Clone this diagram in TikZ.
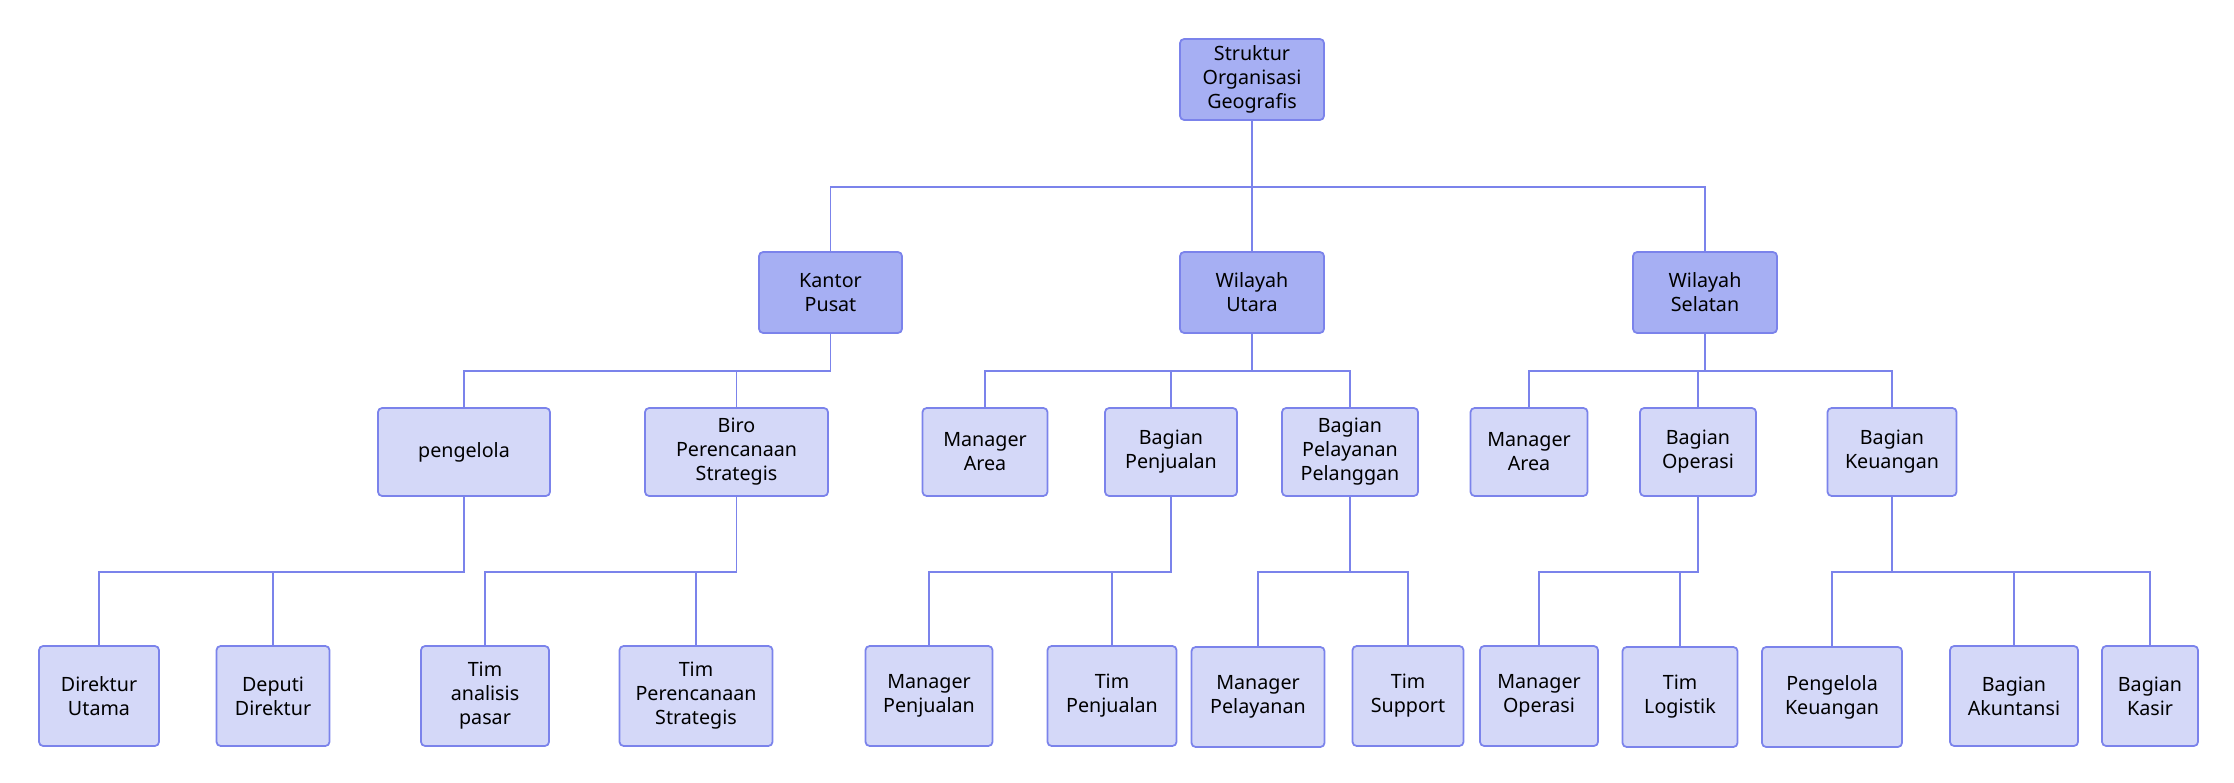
\documentclass[tikz,border=0pt]{standalone}
\usepackage{fontspec}
\setmainfont{Noto Sans}
\usepackage{xcolor}
\usetikzlibrary{positioning}

\definecolor{linkblue}{HTML}{7B83EB}
\definecolor{topfill}{HTML}{A6AFF3}
\definecolor{subfill}{HTML}{D4D8F8}

\begin{document}
\begin{tikzpicture}[x=0.01cm, y=-0.01cm,
  box/.style={draw=linkblue, line width=0.5pt, rounded corners=1.2pt, align=center, inner sep=0pt, font=\fontsize{5.6}{6.8}\selectfont},
  head/.style={box, fill=topfill, minimum height=0.81cm},
  unit/.style={box, fill=subfill, minimum height=0.88cm},
  team/.style={box, fill=subfill, minimum height=1.0cm},
  link/.style={draw=linkblue, line width=0.5pt},
  elbow/.style={to path={-- ++(0,#1) -| (\tikztotarget)}}]
  \useasboundingbox (0,0) rectangle (2234,783);

  % Top and regions
  \node[head, minimum width=1.44cm] (root) at (1252,79.5) {Struktur\\Organisasi\\Geografis};
  \node[head, minimum width=1.43cm] (kantor) at (830.5,292.5) {Kantor\\Pusat};
  \node[head, minimum width=1.44cm] (utara) at (1252,292.5) {Wilayah\\Utara};
  \node[head, minimum width=1.44cm] (selatan) at (1705,292.5) {Wilayah\\Selatan};

  % Units
  \node[unit, minimum width=1.72cm] (pengelola) at (464,452) {pengelola};
  \node[unit, minimum width=1.83cm] (biro) at (736.5,452) {Biro\\Perencanaan\\Strategis};
  \node[unit, minimum width=1.25cm] (areaU) at (985,452) {Manager\\Area};
  \node[unit, minimum width=1.32cm] (penjualan) at (1171,452) {Bagian\\Penjualan};
  \node[unit, minimum width=1.36cm] (pelayanan) at (1350,452) {Bagian\\Pelayanan\\Pelanggan};
  \node[unit, minimum width=1.17cm] (areaS) at (1529,452) {Manager\\Area};
  \node[unit, minimum width=1.16cm] (operasi) at (1698,452) {Bagian\\Operasi};
  \node[unit, minimum width=1.29cm] (keuangan) at (1892,452) {Bagian\\Keuangan};

  % Teams
  \node[team, minimum width=1.20cm] (dirut) at (99,696) {Direktur\\Utama};
  \node[team, minimum width=1.13cm] (deputi) at (273,696) {Deputi\\Direktur};
  \node[team, minimum width=1.28cm] (analisis) at (485,696) {Tim\\analisis\\pasar};
  \node[team, minimum width=1.53cm] (timrencana) at (696,696) {Tim\\Perencanaan\\Strategis};
  \node[team, minimum width=1.27cm] (mpenjualan) at (929,696) {Manager\\Penjualan};
  \node[team, minimum width=1.29cm] (tpenjualan) at (1112,696) {Tim\\Penjualan};
  \node[team, minimum width=1.33cm] (mpelayanan) at (1258,697) {Manager\\Pelayanan};
  \node[team, minimum width=1.11cm] (support) at (1408,696) {Tim\\Support};
  \node[team, minimum width=1.18cm] (moperasi) at (1539,696) {Manager\\Operasi};
  \node[team, minimum width=1.15cm] (logistik) at (1680,697) {Tim\\Logistik};
  \node[team, minimum width=1.40cm] (pkeuangan) at (1832,697) {Pengelola\\Keuangan};
  \node[team, minimum width=1.28cm] (akuntansi) at (2014,696) {Bagian\\Akuntansi};
  \node[team, minimum width=0.96cm] (kasir) at (2150,696) {Bagian\\Kasir};

  % Connectors
  \draw[link] (root.south) edge[elbow=66] (kantor.north) edge[elbow=66] (utara.north) edge[elbow=66] (selatan.north);
  \draw[link] (kantor.south) edge[elbow=37] (pengelola.north) edge[elbow=37] (biro.north);
  \draw[link] (utara.south) edge[elbow=37] (areaU.north) edge[elbow=37] (penjualan.north) edge[elbow=37] (pelayanan.north);
  \draw[link] (selatan.south) edge[elbow=37] (areaS.north) edge[elbow=37] (operasi.north) edge[elbow=37] (keuangan.north);
  \draw[link] (pengelola.south) edge[elbow=75] (dirut.north) edge[elbow=75] (deputi.north);
  \draw[link] (biro.south) edge[elbow=75] (analisis.north) edge[elbow=75] (timrencana.north);
  \draw[link] (penjualan.south) edge[elbow=75] (mpenjualan.north) edge[elbow=75] (tpenjualan.north);
  \draw[link] (pelayanan.south) edge[elbow=75] (mpelayanan.north) edge[elbow=75] (support.north);
  \draw[link] (operasi.south) edge[elbow=75] (moperasi.north) edge[elbow=75] (logistik.north);
  \draw[link] (keuangan.south) edge[elbow=75] (pkeuangan.north) edge[elbow=75] (akuntansi.north) edge[elbow=75] (kasir.north);
\end{tikzpicture}
\end{document}
